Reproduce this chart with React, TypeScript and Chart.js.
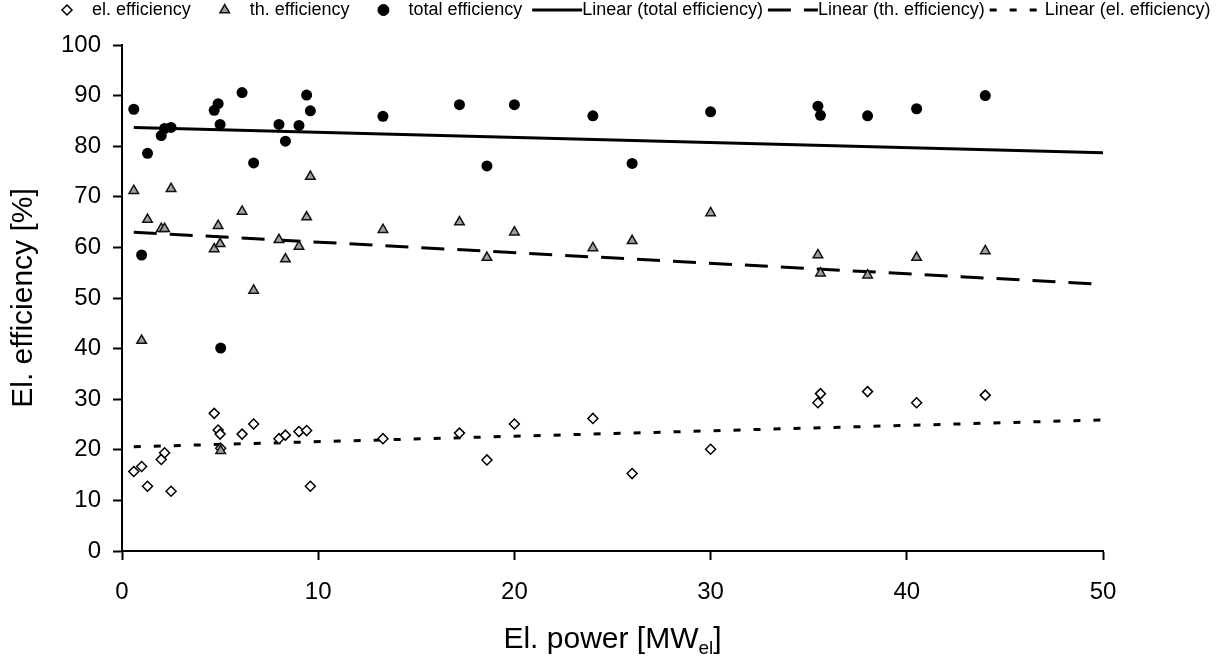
import React, { useEffect, useRef } from 'react';
import { Chart, registerables } from 'chart.js';

Chart.register(...registerables);

const FONT = '"Liberation Sans", Arial, Helvetica, sans-serif';

// Plant electric power [MW_el]
const xPower = [0.6, 1.0, 1.3, 2.0, 2.17, 2.5, 4.7, 4.9, 5.0, 5.03, 6.12, 6.71, 8.0, 8.33, 9.02, 9.41, 9.6, 13.3, 17.2, 18.6, 20, 24, 26, 30, 35.47, 35.6, 38, 40.5, 44];
// Efficiencies [%]
const elEff = [15.7, 16.7, 12.8, 18.1, 19.4, 11.8, 27.2, 23.9, 23.1, 20.3, 23.1, 25.1, 22.2, 22.9, 23.6, 23.8, 12.8, 22.2, 23.3, 18.0, 25.1, 26.2, 15.3, 20.1, 29.3, 31.1, 31.5, 29.3, 30.8];
const thEff = [71.2, 41.6, 65.5, 63.7, 63.7, 71.6, 59.7, 64.3, 60.7, 19.8, 67.1, 51.5, 61.5, 57.7, 60.2, 66.0, 74.0, 63.5, 65.0, 58.0, 63.0, 59.9, 61.3, 66.8, 58.5, 54.9, 54.5, 58.0, 59.3];
const totalEff = [87.3, 58.5, 78.6, 82.1, 83.5, 83.7, 87.1, 88.4, 84.3, 40.1, 90.6, 76.7, 84.3, 81.0, 84.1, 90.1, 87.0, 85.9, 88.2, 76.1, 88.2, 86.0, 76.6, 86.8, 87.9, 86.1, 86.0, 87.4, 90.0];

// Linear trend lines (end points)
const trendX = [0.6, 50];
const trendTotal = [83.7, 78.7];
const trendTh = [63.0, 52.7];
const trendEl = [20.6, 25.9];

const seriesLabels = ['el. efficiency', 'th. efficiency', 'total efficiency', 'Linear (total efficiency)', 'Linear (th. efficiency)', 'Linear (el. efficiency)'];
const xTicks = [0, 10, 20, 30, 40, 50];
const yTicks = [0, 10, 20, 30, 40, 50, 60, 70, 80, 90, 100];

const xTitleMain = 'El. power [MW';
const xTitleSub = 'el';
const xTitleEnd = ']';
const yTitle = 'El. efficiency [%]';

function pts(xs: number[], ys: number[]) {
  return xs.map((x, i) => ({ x, y: ys[i] }));
}

function drawMarker(ctx: CanvasRenderingContext2D, ds: any, cx: number, cy: number) {
  const r = ds.pointRadius;
  ctx.save();
  ctx.lineWidth = ds.borderWidth || 0;
  ctx.strokeStyle = ds.borderColor;
  ctx.fillStyle = ds.backgroundColor;
  ctx.beginPath();
  if (ds.pointStyle === 'rectRot') {
    ctx.moveTo(cx - r, cy);
    ctx.lineTo(cx, cy - r);
    ctx.lineTo(cx + r, cy);
    ctx.lineTo(cx, cy + r);
    ctx.closePath();
  } else if (ds.pointStyle === 'triangle') {
    ctx.moveTo(cx, cy - r);
    ctx.lineTo(cx + r * Math.sin(Math.PI / 3), cy + r * 0.5);
    ctx.lineTo(cx - r * Math.sin(Math.PI / 3), cy + r * 0.5);
    ctx.closePath();
  } else {
    ctx.arc(cx, cy, r, 0, Math.PI * 2);
  }
  ctx.fill();
  if (ctx.lineWidth > 0) ctx.stroke();
  ctx.restore();
}

const decorPlugin = {
  id: 'decor',
  afterDraw(chart: any) {
    const ctx: CanvasRenderingContext2D = chart.ctx;
    ctx.save();
    // Legend
    ctx.font = `18px ${FONT}`;
    ctx.textBaseline = 'middle';
    ctx.textAlign = 'left';
    ctx.fillStyle = '#000';
    const ly = 10;
    let x = 60;
    let prevLine: boolean | null = null;
    chart.data.datasets.forEach((ds: any) => {
      const w = ctx.measureText(ds.label).width;
      if (ds.showLine) {
        x += prevLine ? 5 : 10;
        ctx.save();
        ctx.strokeStyle = ds.borderColor;
        ctx.lineWidth = ds.borderWidth;
        ctx.lineCap = 'butt';
        ctx.setLineDash(ds.borderDash || []);
        ctx.beginPath();
        ctx.moveTo(x, ly);
        ctx.lineTo(x + 50, ly);
        ctx.stroke();
        ctx.restore();
        x += 50;
        if (ds.borderDash && ds.borderDash[0] < 10) x += 5;
        ctx.fillText(ds.label, x, ly);
        x += w;
        prevLine = true;
      } else {
        if (prevLine !== null) x += 27;
        drawMarker(ctx, ds, x + 7, ly);
        ctx.fillText(ds.label, x + 32, ly);
        x += 32 + w;
        prevLine = false;
      }
    });
    // X axis title with subscript
    const area = chart.chartArea;
    const mainFont = `30px ${FONT}`;
    const subFont = `19px ${FONT}`;
    ctx.textBaseline = 'alphabetic';
    ctx.font = mainFont;
    const w1 = ctx.measureText(xTitleMain).width;
    const w3 = ctx.measureText(xTitleEnd).width;
    ctx.font = subFont;
    const w2 = ctx.measureText(xTitleSub).width;
    const total = w1 + w2 + w3;
    let tx = (area.left + area.right) / 2 - total / 2;
    const by = 648;
    ctx.font = mainFont;
    ctx.fillText(xTitleMain, tx, by);
    tx += w1;
    ctx.font = subFont;
    ctx.fillText(xTitleSub, tx, by + 6);
    tx += w2;
    ctx.font = mainFont;
    ctx.fillText(xTitleEnd, tx, by);
    ctx.restore();
  },
};

export default function App() {
  const ref = useRef<HTMLCanvasElement | null>(null);
  useEffect(() => {
    if (!ref.current) return;
    const lineCommon = {
      showLine: true,
      pointRadius: 0,
      pointHoverRadius: 0,
      borderColor: '#000',
      backgroundColor: '#000',
      borderWidth: 3,
      borderCapStyle: 'butt',
      fill: false,
    };
    const chart = new Chart(ref.current, {
      type: 'scatter',
      data: {
        datasets: [
          {
            label: seriesLabels[0],
            data: pts(xPower, elEff),
            pointStyle: 'rectRot',
            pointRadius: 5,
            backgroundColor: '#ffffff',
            borderColor: '#000000',
            borderWidth: 1.5,
            order: 2,
          },
          {
            label: seriesLabels[1],
            data: pts(xPower, thEff),
            pointStyle: 'triangle',
            pointRadius: 5.5,
            backgroundColor: '#a0a0a0',
            borderColor: '#111111',
            borderWidth: 1.5,
            order: 1,
          },
          {
            label: seriesLabels[2],
            data: pts(xPower, totalEff),
            pointStyle: 'circle',
            pointRadius: 5.5,
            backgroundColor: '#000000',
            borderColor: '#000000',
            borderWidth: 0,
            order: 0,
          },
          { ...lineCommon, label: seriesLabels[3], data: pts(trendX, trendTotal), order: 3 },
          { ...lineCommon, label: seriesLabels[4], data: pts(trendX, trendTh), borderDash: [23, 13], order: 4 },
          { ...lineCommon, label: seriesLabels[5], data: pts(trendX, trendEl), borderDash: [7, 13], order: 5 },
        ] as any,
      },
      options: {
        animation: false,
        responsive: false,
        devicePixelRatio: 1,
        layout: { padding: { top: 45, right: 117, left: 0, bottom: 0 } },
        plugins: { legend: { display: false }, tooltip: { enabled: false } },
        scales: {
          x: {
            type: 'linear',
            min: 0,
            max: 50,
            afterBuildTicks: (s: any) => { s.ticks = xTicks.map((v) => ({ value: v })); },
            afterFit: (s: any) => { s.height = 106; },
            ticks: { font: { size: 24, family: FONT }, color: '#000', padding: 18, maxRotation: 0 },
            grid: { display: true, drawOnChartArea: false, drawTicks: true, tickLength: 9, tickWidth: 2, tickColor: '#000', color: '#000' },
            border: { display: true, color: '#000', width: 2 },
          },
          y: {
            type: 'linear',
            min: 0,
            max: 100,
            afterBuildTicks: (s: any) => { s.ticks = yTicks.map((v) => ({ value: v })); },
            afterFit: (s: any) => { s.width = 122; },
            ticks: { font: { size: 24, family: FONT }, color: '#000', padding: 12 },
            grid: { display: true, drawOnChartArea: false, drawTicks: true, tickLength: 9, tickWidth: 2, tickColor: '#000', color: '#000' },
            border: { display: true, color: '#000', width: 2 },
            title: { display: true, text: yTitle, font: { size: 30, family: FONT }, color: '#000', padding: { top: 6, bottom: 0 } },
          },
        },
      } as any,
      plugins: [decorPlugin],
    });
    return () => chart.destroy();
  }, []);
  return (
    <div style={{ position: 'absolute', left: 0, top: 0, width: 1220, height: 657, background: '#fff' }}>
      <canvas ref={ref} width={1220} height={657} style={{ display: 'block' }} />
    </div>
  );
}
